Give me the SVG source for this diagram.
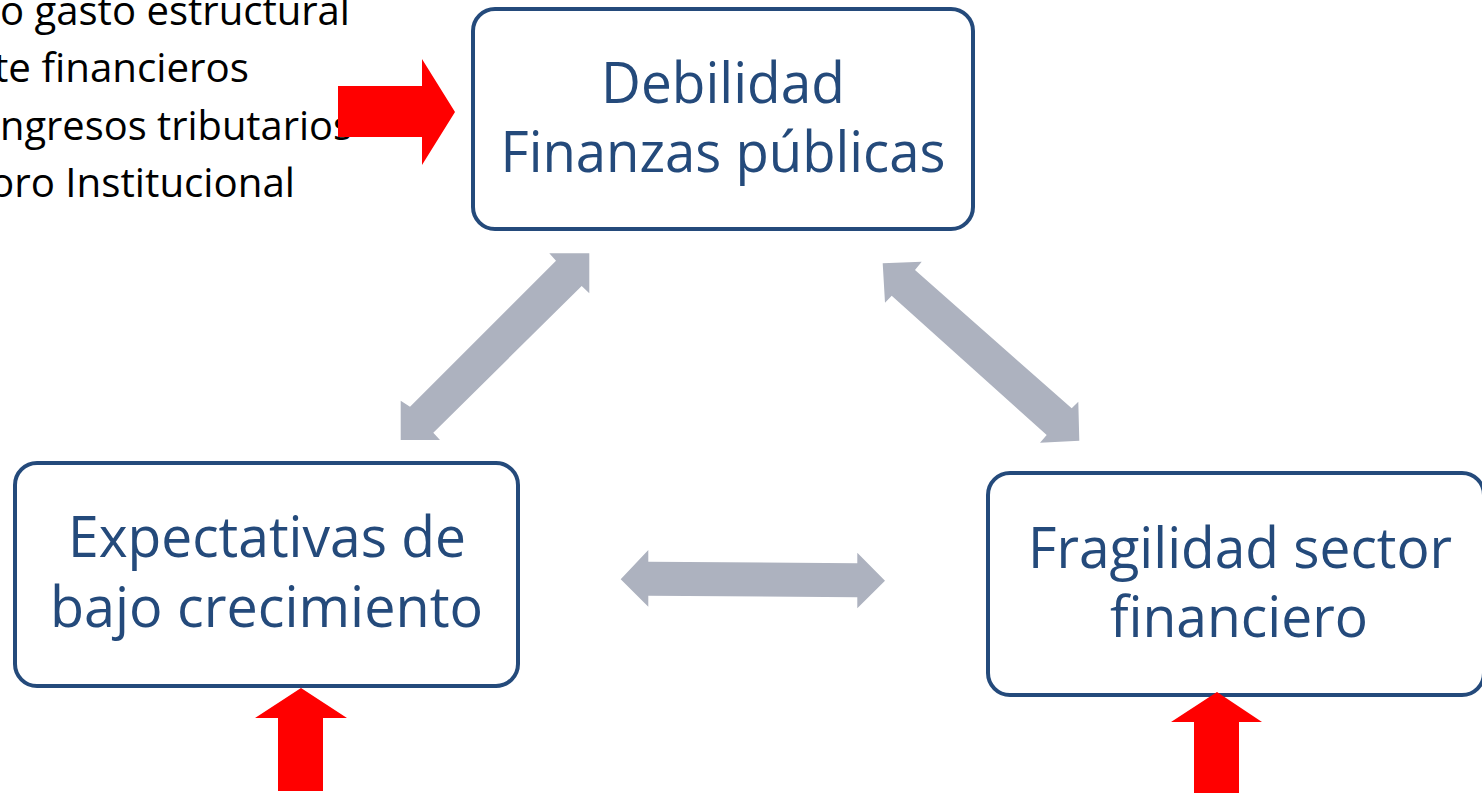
<svg xmlns="http://www.w3.org/2000/svg" width="1482" height="793" viewBox="0 0 1482 793">
<style>
.box{fill:#fff;stroke:#244A7B;stroke-width:4}
.bt{font-family:"Open Sans","Liberation Sans",sans-serif;font-size:57px;fill:#244A7B;text-anchor:middle}
.lt{font-family:"Open Sans","Liberation Sans",sans-serif;font-size:41px;fill:#000;text-anchor:end}
.red{fill:#FF0000}
.gray{fill:#ADB2BF}
</style>
<rect width="1482" height="793" fill="#fff"/>
<g id="causes-text">
<text class="lt" x="350" y="25" textLength="350" lengthAdjust="spacingAndGlyphs">o gasto estructural</text>
<text class="lt" x="249" y="82" textLength="255" lengthAdjust="spacingAndGlyphs">te financieros</text>
<text class="lt" x="352" y="140" textLength="352" lengthAdjust="spacingAndGlyphs">ngresos tributarios</text>
<text class="lt" x="295" y="197" textLength="305" lengthAdjust="spacingAndGlyphs">oro Institucional</text>
</g>
<g id="node-finanzas">
<rect class="box" x="473" y="9" width="500" height="220" rx="22"/>
<text class="bt" x="723" y="103" textLength="244" lengthAdjust="spacingAndGlyphs">Debilidad</text>
<text class="bt" x="723" y="172" textLength="445" lengthAdjust="spacingAndGlyphs">Finanzas públicas</text>
</g>
<g id="node-expectativas">
<rect class="box" x="15" y="463" width="503" height="223" rx="22"/>
<text class="bt" x="267" y="557" textLength="398" lengthAdjust="spacingAndGlyphs">Expectativas de</text>
<text class="bt" x="266.5" y="627" textLength="433" lengthAdjust="spacingAndGlyphs">bajo crecimiento</text>
</g>
<g id="node-fragilidad">
<rect class="box" x="988" y="473" width="496" height="222" rx="22"/>
<text class="bt" x="1240" y="568" textLength="424" lengthAdjust="spacingAndGlyphs">Fragilidad sector</text>
<text class="bt" x="1239" y="637" textLength="258" lengthAdjust="spacingAndGlyphs">financiero</text>
</g>
<g id="connectors">
<polygon class="gray" points="589.3,253.3 549.3,253.3 556,260.7 410,406.7 400.7,400.7 400.7,440 440,440 433.3,432.7 581.7,286 589.3,293.3"/>
<polygon class="gray" points="882.7,263.3 921.7,261.7 915,270 1071.7,408.3 1078.3,401.7 1079.3,440.7 1040,442.7 1046.7,435 891.7,295.7 885,302.7"/>
<polygon class="gray" points="620.7,579.3 648.3,550 648.3,561.7 857.3,563.3 857.3,552.7 885,580.7 857.3,608.3 857.3,597.3 648.3,595.7 648.3,606.7"/>
<polygon class="red" points="338,86 422,86 422,59 455,112 422,165 422,137 338,137"/>
<polygon class="red" points="301,688 347,718 323,718 323,791 278,791 278,718 255,718"/>
<polygon class="red" points="1217,692 1262,722 1239,722 1239,793 1194,793 1194,722 1171,722"/>
</g>
</svg>
